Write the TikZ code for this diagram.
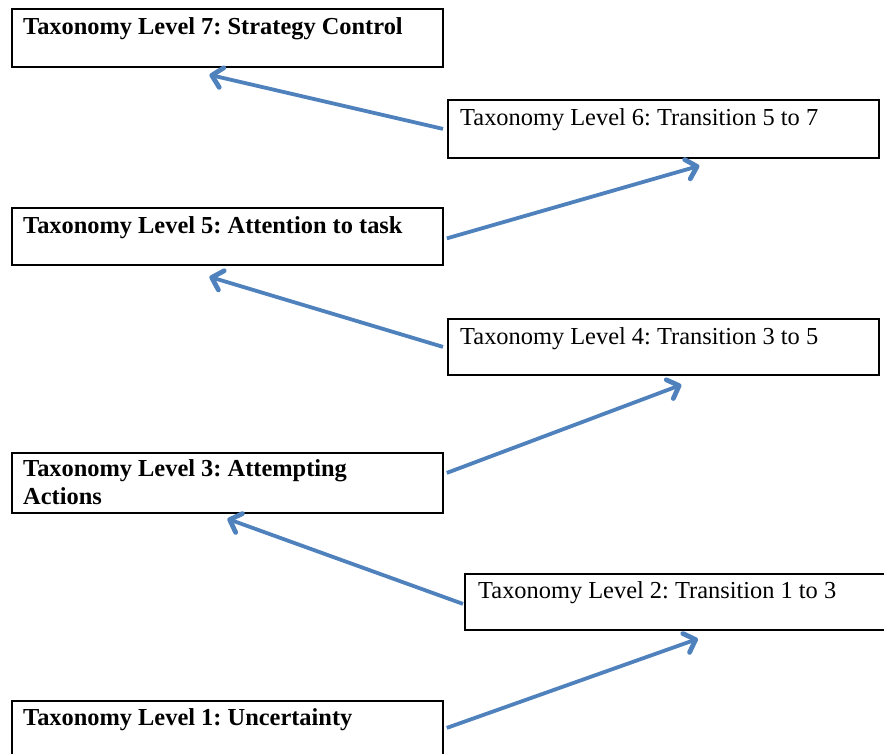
\documentclass[tikz,border=0pt]{standalone}
\usepackage{fontspec}
\setmainfont{Liberation Serif}
\frenchspacing
\usetikzlibrary{arrows.meta}
\definecolor{arrowblue}{RGB}{79,129,189}
\begin{document}
\begin{tikzpicture}[x=1pt,y=-1pt]
\tikzset{boite/.style={draw, line width=1.8pt, rectangle, anchor=north west, inner sep=0pt, minimum width=431pt},
  titre/.style={anchor=base west, inner sep=0pt, align=left, font=\fontsize{24.4}{28}\selectfont},
  fleche/.style={draw=arrowblue, line width=3.8pt, -{Straight Barb[length=10pt, width=20pt, line width=4.8pt, line cap=round, line join=round]}}}
\useasboundingbox (0,0) rectangle (884,754);
\clip (0,0) rectangle (884,754);
\node[boite, minimum height=58pt] (L7) at (11,8) {};
\node[boite, minimum height=58pt] (L6) at (447,99) {};
\node[boite, minimum height=57pt] (L5) at (11,207) {};
\node[boite, minimum height=56pt] (L4) at (447,318) {};
\node[boite, minimum height=60pt] (L3) at (11,452) {};
\node[boite, minimum height=56pt, minimum width=430pt] (L2) at (464,573) {};
\node[boite, minimum height=58pt] (L1) at (11,700) {};
\node[titre] (T7) at ([shift={(12,27)}]L7.north west) {\bfseries Taxonomy Level 7: Strategy Control};
\node[titre] (T6) at ([shift={(13,27)}]L6.north west) {Taxonomy Level 6: Transition 5 to 7};
\node[titre] (T5) at ([shift={(12,27)}]L5.north west) {\bfseries Taxonomy Level 5: Attention to task};
\node[titre] (T4) at ([shift={(13,26)}]L4.north west) {Taxonomy Level 4: Transition 3 to 5};
\node[titre] (T3) at ([shift={(12,52)}]L3.north west) {\bfseries Taxonomy Level 3: Attempting\\\bfseries Actions};
\node[titre] (T2) at ([shift={(14,25)}]L2.north west) {Taxonomy Level 2: Transition 1 to 3};
\node[titre] (T1) at ([shift={(12,25)}]L1.north west) {\bfseries Taxonomy Level 1: Uncertainty};
\draw[fleche] ([shift={(-4,0)}]L6.west) -- ([shift={(-18,7)}]L7.south);
\draw[fleche] ([shift={(3,2)}]L5.east) -- ([shift={(36,7)}]L6.south);
\draw[fleche] ([shift={(-4,0)}]L4.west) -- ([shift={(-18,11)}]L5.south);
\draw[fleche] ([shift={(3,-10)}]L3.east) -- ([shift={(18,9)}]L4.south);
\draw[fleche] ([shift={(-1,2)}]L2.west) -- ([shift={(0,5)}]L3.south);
\draw[fleche] ([shift={(3,-2)}]L1.east) -- ([shift={(18,8)}]L2.south);
\end{tikzpicture}
\end{document}
